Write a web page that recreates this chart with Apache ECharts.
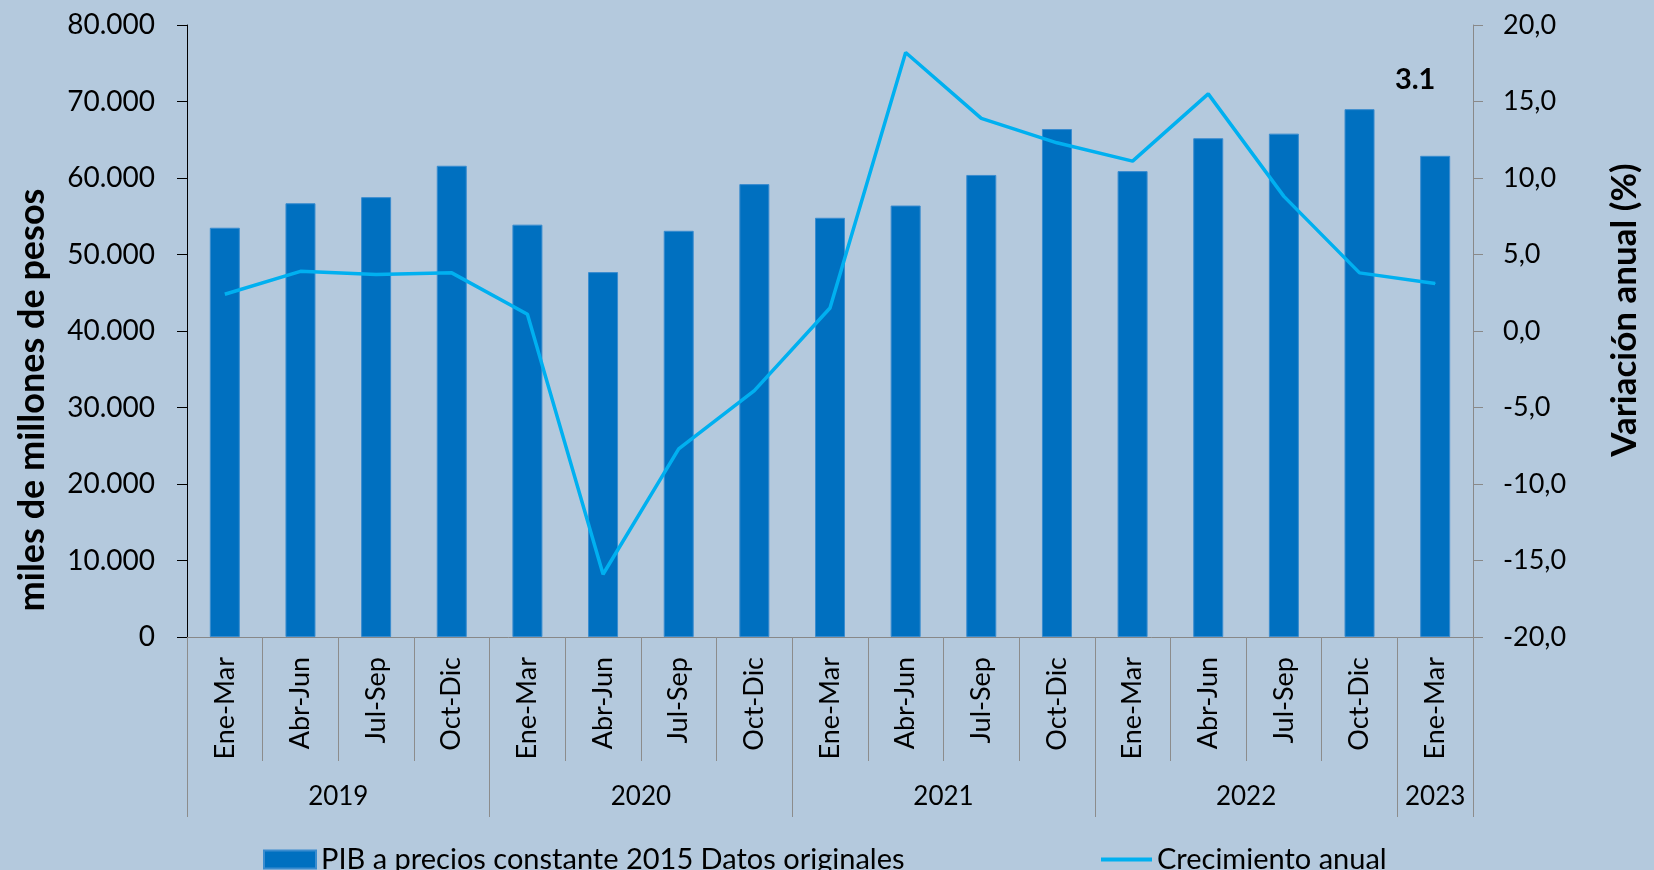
<!DOCTYPE html>
<html>
<head>
<meta charset="utf-8">
<script src="https://cdn.jsdelivr.net/npm/echarts@6/dist/echarts.min.js"></script>
<style>
html,body{margin:0;padding:0;background:#b4c9dd;}
#chart{width:1654px;height:870px;}
</style>
</head>
<body>
<div id="chart"></div>
<script>
var quarters = ['Ene-Mar','Abr-Jun','Jul-Sep','Oct-Dic','Ene-Mar','Abr-Jun','Jul-Sep','Oct-Dic','Ene-Mar','Abr-Jun','Jul-Sep','Oct-Dic','Ene-Mar','Abr-Jun','Jul-Sep','Oct-Dic','Ene-Mar'];
var years = ['2019','2020','2021','2022','2023'];
var quartersPerYear = [4,4,4,4,1];
var pib = [53500,56700,57500,61600,53900,47700,53100,59200,54800,56400,60400,66400,60900,65200,65800,69000,62900];
var crecimiento = [2.4,3.9,3.7,3.8,1.1,-15.9,-7.7,-3.9,1.5,18.2,13.9,12.3,11.1,15.5,8.8,3.8,3.1];
var leftTicks = {min:0, max:80000, interval:10000};
var rightTicks = {min:-20, max:20, interval:5};
var pibName = 'PIB a precios constante 2015 Datos originales';
var lineName = 'Crecimiento anual';

// Year-level axis on half-quarter positions (boundaryGap false)
var halfCount = quarters.length * 2 + 1;
var yearAxisData = [];
for (var i = 0; i < halfCount; i++) yearAxisData.push('');
var yearTickIdx = {0:true};
var yearLabelIdx = {};
var start = 0;
for (var y = 0; y < years.length; y++) {
  var n = quartersPerYear[y];
  var mid = start * 2 + n;
  yearAxisData[mid] = years[y];
  yearLabelIdx[mid] = true;
  start += n;
  yearTickIdx[start * 2] = true;
}

var font = 'Lato, "Open Sans", sans-serif';
var chart = echarts.init(document.getElementById('chart'));
var lineData = crecimiento.map(function(v, i){
  if (i === crecimiento.length - 1) {
    return {value: v, symbol: 'circle', symbolSize: 1,
      label: {show: true, position: 'top', distance: 5, offset: [-20, -184],
        formatter: function(p){ return String(p.value); },
        fontFamily: font, fontWeight: 'bold', fontSize: 29, color: '#000'}};
  }
  return v;
});

chart.setOption({
  animation: false,
  backgroundColor: '#b4c9dd',
  grid: {left: 187, right: 181, top: 25, bottom: 233, containLabel: false},
  legend: [
    {data: [pibName], left: 258, top: 840, itemWidth: 52, itemHeight: 18, icon: 'rect',
     textStyle: {fontFamily: font, fontSize: 29, color: '#000'}, itemGap: 0, selectedMode: false},
    {data: [lineName], left: 1096, top: 840, itemWidth: 51, itemHeight: 4, icon: 'rect',
     textStyle: {fontFamily: font, fontSize: 29, color: '#000'}, selectedMode: false}
  ],
  xAxis: [
    {type: 'category', data: quarters, position: 'bottom',
     axisLine: {show: true, onZero: false, lineStyle: {color: '#888', width: 1}},
     axisTick: {show: true, interval: 0, length: 124, lineStyle: {color: '#8c8c8c', width: 1}},
     axisLabel: {interval: 0, rotate: 90, margin: 20, fontFamily: font, fontSize: 27, color: '#000'},
     splitLine: {show: false}},
    {type: 'category', data: yearAxisData, position: 'bottom', boundaryGap: false, gridIndex: 0,
     axisLine: {show: false, onZero: false},
     axisTick: {show: true, length: 180, lineStyle: {color: '#8c8c8c', width: 1},
       interval: function(idx){ return !!yearTickIdx[idx]; }},
     axisLabel: {margin: 147, fontFamily: font, fontSize: 26, color: '#000',
       interval: function(idx){ return !!yearLabelIdx[idx]; }},
     splitLine: {show: false}}
  ],
  yAxis: [
    {type: 'value', min: leftTicks.min, max: leftTicks.max, interval: leftTicks.interval, position: 'left',
     name: 'miles de millones de pesos', nameLocation: 'middle', nameRotate: 90, nameGap: 137,
     nameTextStyle: {fontFamily: font, fontWeight: 'bold', fontSize: 36, color: '#000', padding: [0, 138, 0, 0]},
     axisLine: {show: true, onZero: false, lineStyle: {color: '#000', width: 1}},
     axisTick: {show: true, length: 10, lineStyle: {color: '#000'}},
     axisLabel: {margin: 32, fontFamily: font, fontSize: 28, color: '#000',
       formatter: function(v){ return v === 0 ? '0' : v.toLocaleString('de-DE'); }},
     splitLine: {show: false}},
    {type: 'value', min: rightTicks.min, max: rightTicks.max, interval: rightTicks.interval, position: 'right',
     name: 'Variación anual (%)', nameLocation: 'middle', nameRotate: 90, nameGap: 134,
     nameTextStyle: {fontFamily: font, fontWeight: 'bold', fontSize: 35, color: '#000', padding: [0, 0, 0, 42]},
     axisLine: {show: true, onZero: false, lineStyle: {color: '#898989', width: 1}},
     axisTick: {show: true, length: 10, lineStyle: {color: '#898989'}},
     axisLabel: {margin: 30, fontFamily: font, fontSize: 27, color: '#000',
       formatter: function(v){ return v.toFixed(1).replace('.', ','); }},
     splitLine: {show: false}}
  ],
  series: [
    {name: pibName, type: 'bar', xAxisIndex: 0, yAxisIndex: 0, data: pib, barWidth: 30,
     itemStyle: {color: '#0070c0', borderColor: '#3a8ccf', borderWidth: 1}},
    {name: lineName, type: 'line', xAxisIndex: 0, yAxisIndex: 1, data: lineData,
     showSymbol: true, symbol: 'none', lineStyle: {color: '#00b0f0', width: 3.5},
     itemStyle: {color: '#00b0f0'}, z: 5}
  ]
});
</script>
</body>
</html>
